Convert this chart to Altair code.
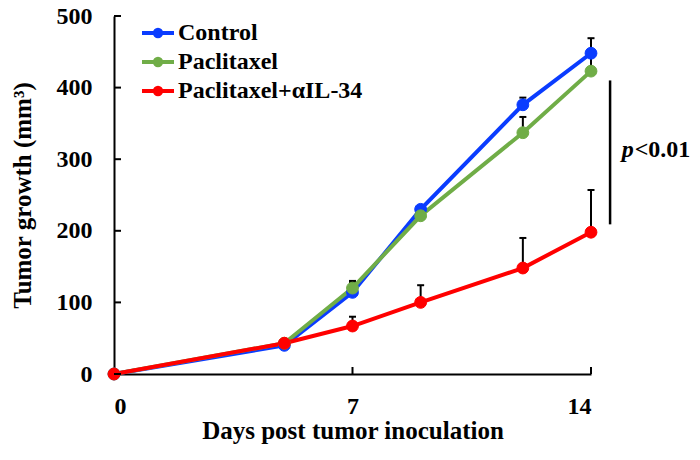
import altair as alt
import pandas as pd

days = [0, 5, 7, 9, 12, 14]
series_names = ["Control", "Paclitaxel", "Paclitaxel+αIL-34"]
control = [0, 40, 114, 230, 376, 448]
paclitaxel = [0, 43, 120, 221, 337, 423]
combo = [0, 43, 67, 100, 148, 198]
colors = ["#0A3CFF", "#70AD47", "#FF0000"]

# error bar tops (upper SEM only)
err_day = [7, 12, 14, 7, 12, 14, 7, 9, 12, 14]
err_series = ["Control", "Control", "Control", "Paclitaxel", "Paclitaxel", "Paclitaxel",
              "Paclitaxel+αIL-34", "Paclitaxel+αIL-34", "Paclitaxel+αIL-34", "Paclitaxel+αIL-34"]
err_base = [114, 376, 448, 120, 337, 423, 67, 100, 148, 198]
err_top = [128, 386, 469, 130, 359, 445, 80, 124, 190, 257]

y_ticks = [0, 100, 200, 300, 400, 500]
x_ticks = [0, 7, 14]

bracket_x = [14.56]
bracket_lo = [209]
bracket_hi = [410]
p_x = [14.9]
p_y = [313]

FONT = "Liberation Serif"

rows = []
for name, vals in zip(series_names, [control, paclitaxel, combo]):
    for d, v in zip(days, vals):
        rows.append({"day": d, "value": v, "series": name})
df = pd.DataFrame(rows)
err_df = pd.DataFrame({"day": err_day, "series": err_series, "base": err_base, "top": err_top})

xs = alt.Scale(domain=[0, 14], nice=False)
ys = alt.Scale(domain=[0, 500], nice=False)
cscale = alt.Scale(domain=series_names, range=colors)

x_enc = alt.X("day:Q", scale=xs,
              axis=alt.Axis(values=x_ticks, title="Days post tumor inoculation", ticks=False,
                            grid=False, labelPadding=20, titlePadding=0,
                            domainColor="black", domainWidth=2))
y_enc = alt.Y("value:Q", scale=ys,
              axis=alt.Axis(values=y_ticks, title="Tumor growth (mm³)", ticks=False,
                            grid=False, labelPadding=22, titlePadding=21,
                            domainColor="black", domainWidth=2))

err_rule = alt.Chart(err_df).mark_rule(color="black", strokeWidth=2).encode(
    x=alt.X("day:Q", scale=xs), y=alt.Y("base:Q", scale=ys), y2="top:Q")
err_cap = alt.Chart(err_df).mark_point(shape="M-1,0H1", size=49, color="black",
                                       strokeWidth=2, filled=False, opacity=1).encode(
    x=alt.X("day:Q", scale=xs), y=alt.Y("top:Q", scale=ys))

lines = alt.Chart(df).mark_line(strokeWidth=4).encode(
    x=x_enc, y=y_enc,
    color=alt.Color("series:N", scale=cscale, sort=series_names,
                    legend=alt.Legend(title=None)),
    detail="series:N")

points = alt.Chart(df).mark_point(filled=True, size=140, opacity=1, strokeWidth=1).encode(
    x=alt.X("day:Q", scale=xs), y=alt.Y("value:Q", scale=ys),
    fill=alt.Fill("series:N", scale=cscale, sort=series_names,
                  legend=alt.Legend(title=None)),
    stroke=alt.Stroke("series:N", scale=cscale, sort=series_names,
                      legend=alt.Legend(title=None)))

ytick_df = pd.DataFrame({"v": y_ticks})
ytick_rules = alt.Chart(ytick_df).mark_rule(color="black", strokeWidth=2).encode(
    y=alt.Y("v:Q", scale=ys), x=alt.value(0), x2=alt.value(7))
xtick_df = pd.DataFrame({"d": x_ticks[1:]})
xtick_rules = alt.Chart(xtick_df).mark_rule(color="black", strokeWidth=2).encode(
    x=alt.X("d:Q", scale=xs), y=alt.value(358), y2=alt.value(351))

bdf = pd.DataFrame({"x": bracket_x, "lo": bracket_lo, "hi": bracket_hi})
bracket = alt.Chart(bdf).mark_rule(color="black", strokeWidth=2.5).encode(
    x=alt.X("x:Q", scale=xs), y=alt.Y("lo:Q", scale=ys), y2="hi:Q")

pdf = pd.DataFrame({"x": p_x, "y": p_y})
p_text = alt.Chart(pdf).mark_text(text="p", font=FONT, fontSize=24, fontWeight="bold",
                                  fontStyle="italic", align="left", baseline="middle").encode(
    x=alt.X("x:Q", scale=xs), y=alt.Y("y:Q", scale=ys))
p_text2 = alt.Chart(pdf).mark_text(text="<0.01", font=FONT, fontSize=24, fontWeight="bold",
                                   align="left", baseline="middle", dx=13).encode(
    x=alt.X("x:Q", scale=xs), y=alt.Y("y:Q", scale=ys))

legend_path = "M-2,0H2M0.4,0A0.4,0.4 0 1,1 -0.4,0A0.4,0.4 0 1,1 0.4,0"

chart = alt.layer(err_rule, err_cap, lines, points, ytick_rules, xtick_rules,
                  bracket, p_text, p_text2).properties(
    width=477, height=358,
    autosize=alt.AutoSizeParams(type="none"),
    padding={"left": 106, "top": 8, "right": 101, "bottom": 78},
).configure_view(stroke=None).configure_axis(
    labelFont=FONT, titleFont=FONT, labelFontSize=24, titleFontSize=25,
    labelFontWeight="bold", titleFontWeight="bold", labelColor="black", titleColor="black",
).configure_legend(
    orient="none", legendX=32, legendY=5, padding=0,
    symbolType=legend_path, symbolSize=256, symbolStrokeWidth=4,
    labelFont=FONT, labelFontSize=24, labelFontWeight="bold", labelColor="black",
    labelOffset=8, rowPadding=5, labelLimit=400,
)

chart.save("out.html", embed_options={"renderer": "svg", "actions": False})
